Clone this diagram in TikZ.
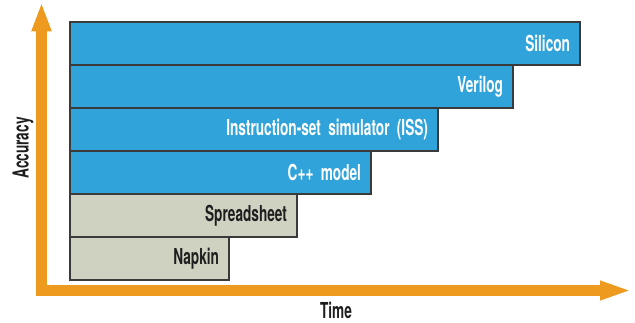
\documentclass[tikz,border=0pt]{standalone}
\usepackage{fontspec}
\usepackage{tikz}
\usetikzlibrary{arrows.meta,positioning}
\newfontfamily\narrowfont[FakeStretch=0.62]{TeX Gyre Heros}
\definecolor{barblue}{HTML}{31A3DB}
\definecolor{bargray}{HTML}{CFD1C1}
\definecolor{axisorange}{HTML}{EE9A1E}
\definecolor{edgegray}{HTML}{3A3A3A}
\definecolor{inkdark}{HTML}{1E1E1E}

\begin{document}
\begin{tikzpicture}[x=0.75pt,y=0.75pt,
  bar/.style={rectangle,draw=edgegray,line width=1.5pt,outer sep=0pt,minimum height=32.25pt,inner xsep=7.5pt,align=right,font=\narrowfont\bfseries\fontsize{16.5}{19}\selectfont},
  bluebar/.style={bar,fill=barblue,text=white},
  graybar/.style={bar,fill=bargray,text=inkdark},
  axisline/.style={line width=8.25pt,draw=axisorange,line join=miter,{Triangle[length=22pt,width=13.5pt]}-{Triangle[length=24pt,width=13pt]}},
  axislabel/.style={text=inkdark,font=\narrowfont\bfseries\fontsize{16.5}{19}\selectfont}
]
\useasboundingbox (0,0) rectangle (635,322);
% axes
\coordinate (ytip) at (41.5,320);
\coordinate (xtip) at (632,31.5);
\draw[axisline] (ytip) |- (xtip);
\node[axislabel,rotate=90] (acc) at (23,174) {Accuracy};
\node[axislabel] (time) at (336,11.5) {Time};
% bars, bottom up
\node[graybar,anchor=south west,text width=104.25pt] (napkin) at (70,42) {Napkin};
\node[graybar,above right=0pt of napkin.north west,text width=155.25pt] (sheet) {Spreadsheet};
\node[bluebar,above right=0pt of sheet.north west,text width=210.75pt] (cmodel) {C++ model};
\node[bluebar,above right=0pt of cmodel.north west,text width=261pt] (iss) {Instruction-set simulator (ISS)};
\node[bluebar,above right=0pt of iss.north west,text width=317.25pt] (verilog) {Verilog};
\node[bluebar,above right=0pt of verilog.north west,text width=367.5pt] (silicon) {Silicon};
\end{tikzpicture}
\end{document}
